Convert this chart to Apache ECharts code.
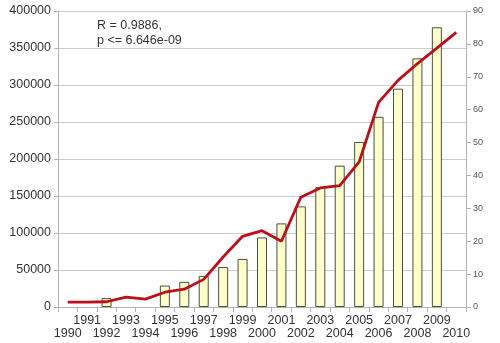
<!DOCTYPE html>
<html>
<head>
<meta charset="utf-8">
<script src="https://cdn.jsdelivr.net/npm/echarts@6/dist/echarts.min.js"></script>
<style>
  html, body { margin: 0; padding: 0; background: #fff; }
  #chart { width: 500px; height: 343px; }
</style>
</head>
<body>
<div id="chart"></div>
<script>
// Years on the category axis
const years = ['1990','1991','1992','1993','1994','1995','1996','1997','1998','1999','2000',
               '2001','2002','2003','2004','2005','2006','2007','2008','2009','2010'];
// Yearly totals (bars, left axis)
const barValues = [null, null, 12000, null, null, 29000, 34000, 42000, 54000, 65000, 94000,
                   113000, 136000, 162000, 191000, 223000, 257000, 295000, 336000, 378000, null];
// Companion series (line, right axis)
const lineValues = [1.5, 1.5, 1.6, 3.0, 2.4, 4.5, 5.4, 8.4, 15.2, 21.5, 23.2,
                    20.0, 33.4, 36.2, 36.9, 44.1, 62.2, 68.9, 74.0, 78.7, 83.5];
// Correlation note
const noteLines = ['R = 0.9886,', 'p <= 6.646e-09'];

const font = 'Liberation Sans, Arial, sans-serif';
const chart = echarts.init(document.getElementById('chart'), null, { renderer: 'canvas' });

chart.setOption({
  animation: false,
  backgroundColor: '#ffffff',
  grid: { left: 58, right: 34, top: 11, bottom: 36, containLabel: false },
  graphic: [{
    type: 'text',
    left: 97,
    top: 18,
    style: {
      text: noteLines.join('\n'),
      font: '12.5px ' + font,
      fill: '#333333',
      lineHeight: 15
    }
  }],
  xAxis: {
    type: 'category',
    data: years,
    boundaryGap: true,
    axisLine: { lineStyle: { color: '#b3b3b3', width: 1 } },
    axisTick: { show: true, length: 5, lineStyle: { color: '#b3b3b3' } },
    axisLabel: {
      interval: 0,
      margin: 7,
      color: '#333333',
      fontFamily: font,
      fontSize: 12.5,
      lineHeight: 13,
      formatter: (v, i) => (i % 2 === 1 ? v : '\n' + v)
    },
    splitLine: { show: false }
  },
  yAxis: [{
    type: 'value',
    min: 0,
    max: 400000,
    interval: 50000,
    axisLine: { show: true, lineStyle: { color: '#b3b3b3' } },
    axisTick: { show: true, length: 4, lineStyle: { color: '#b3b3b3' } },
    axisLabel: {
      color: '#333333', fontFamily: font, fontSize: 12.5, margin: 7,
      formatter: v => String(v)
    },
    splitLine: { show: true, lineStyle: { color: '#cccccc', width: 1 } }
  }, {
    type: 'value',
    min: 0,
    max: 90,
    interval: 10,
    position: 'right',
    axisLine: { show: true, lineStyle: { color: '#b3b3b3' } },
    axisTick: { show: true, length: 5, lineStyle: { color: '#b3b3b3' } },
    axisLabel: { color: '#555555', fontFamily: font, fontSize: 9, margin: 7 },
    splitLine: { show: false }
  }],
  series: [{
    type: 'bar',
    yAxisIndex: 0,
    data: barValues,
    barWidth: 10,
    itemStyle: { color: '#ffffcc', borderColor: '#4d4d40', borderWidth: 1 }
  }, {
    type: 'line',
    yAxisIndex: 1,
    data: lineValues,
    symbol: 'none',
    lineStyle: { color: '#bb1019', width: 2.8 },
    z: 5
  }]
});
</script>
</body>
</html>
